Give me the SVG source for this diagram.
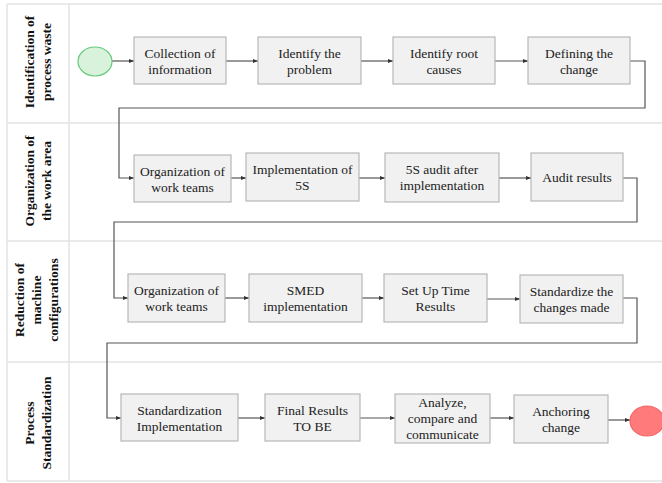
<svg xmlns="http://www.w3.org/2000/svg" width="662" height="483" viewBox="0 0 662 483">
<defs>
<marker id="ah" viewBox="0 0 10 10" refX="10" refY="5" markerWidth="5" markerHeight="5" orient="auto" markerUnits="userSpaceOnUse">
<path d="M0,1 L10,5 L0,9 z" fill="#333"/>
</marker>
<style>
.lane{stroke:#e3e3e3;stroke-width:1.5;fill:none}
.box{fill:#f1f1f1;stroke:#b8b8b8;stroke-width:1.2}
.t{font-family:'Liberation Serif','Times New Roman','DejaVu Serif',serif;font-size:13.5px;fill:#222;text-anchor:middle}
.lt{font-family:'Liberation Serif','Times New Roman','DejaVu Serif',serif;font-size:13.5px;font-weight:bold;fill:#111;text-anchor:middle}
.c{stroke:#555;stroke-width:1.2;fill:none;marker-end:url(#ah)}
</style>
</defs>
<rect width="662" height="483" fill="#fff"/>
<g id="lanes">
<path class="lane" d="M7,4 H662 M7,123 H662 M7,241 H662 M7,362 H662 M7,481 H662 M7,4 V481 M69,4 V481"/>
<text class="lt" transform="translate(38,62) rotate(-90)"><tspan x="0" y="-4">Identification of</tspan><tspan x="0" y="13">process waste</tspan></text>
<text class="lt" transform="translate(38,181) rotate(-90)"><tspan x="0" y="-4">Organization of</tspan><tspan x="0" y="13">the work area</tspan></text>
<text class="lt" transform="translate(37,300) rotate(-90)"><tspan x="0" y="-13">Reduction of</tspan><tspan x="0" y="4">machine</tspan><tspan x="0" y="21">configurations</tspan></text>
<text class="lt" transform="translate(38,423) rotate(-90)"><tspan x="0" y="-4">Process</tspan><tspan x="0" y="13">Standardization</tspan></text>
</g>
<g id="connectors">
<path class="c" d="M112,61 H134"/>
<path class="c" d="M226,61 H258"/>
<path class="c" d="M361,61 H393"/>
<path class="c" d="M495,61 H528"/>
<path class="c" d="M630,61 H645 V108 H119 V178 H134"/>
<path class="c" d="M231,178 H246"/>
<path class="c" d="M359,178 H385"/>
<path class="c" d="M499,178 H531"/>
<path class="c" d="M623,178 H637 V222 H114 V298 H128"/>
<path class="c" d="M225,298 H249"/>
<path class="c" d="M362,298 H384"/>
<path class="c" d="M487,299 H520"/>
<path class="c" d="M623,298 H637 V343 H107 V418 H121"/>
<path class="c" d="M238,418 H265"/>
<path class="c" d="M360,418 H395"/>
<path class="c" d="M490,418 H514"/>
<path class="c" d="M608,420 H630"/>
</g>
<g id="start"><ellipse cx="95" cy="61.5" rx="17" ry="14.5" fill="#d9f2dc" stroke="#66c978" stroke-width="1.2"/></g>
<g id="n1"><rect class="box" x="134" y="37" width="92" height="47"/><text class="t"><tspan x="180" y="58">Collection of</tspan><tspan x="180" y="74">information</tspan></text></g>
<g id="n2"><rect class="box" x="258" y="37" width="103" height="47"/><text class="t"><tspan x="309.5" y="58">Identify the</tspan><tspan x="309.5" y="74">problem</tspan></text></g>
<g id="n3"><rect class="box" x="393" y="37" width="102" height="47"/><text class="t"><tspan x="444" y="58">Identify root</tspan><tspan x="444" y="74">causes</tspan></text></g>
<g id="n4"><rect class="box" x="528" y="37" width="102" height="47"/><text class="t"><tspan x="579" y="58">Defining the</tspan><tspan x="579" y="74">change</tspan></text></g>
<g id="n5"><rect class="box" x="134" y="155" width="97" height="47"/><text class="t"><tspan x="182.5" y="176">Organization of</tspan><tspan x="182.5" y="192">work teams</tspan></text></g>
<g id="n6"><rect class="box" x="246" y="153" width="113" height="48"/><text class="t"><tspan x="302.5" y="174">Implementation of</tspan><tspan x="302.5" y="190">5S</tspan></text></g>
<g id="n7"><rect class="box" x="385" y="153" width="114" height="49"/><text class="t"><tspan x="442" y="174">5S audit after</tspan><tspan x="442" y="190">implementation</tspan></text></g>
<g id="n8"><rect class="box" x="531" y="153" width="92" height="48"/><text class="t"><tspan x="577" y="182">Audit results</tspan></text></g>
<g id="n9"><rect class="box" x="128" y="274" width="97" height="48"/><text class="t"><tspan x="176.5" y="295">Organization of</tspan><tspan x="176.5" y="311">work teams</tspan></text></g>
<g id="n10"><rect class="box" x="249" y="274" width="113" height="48"/><text class="t"><tspan x="305.5" y="295">SMED</tspan><tspan x="305.5" y="311">implementation</tspan></text></g>
<g id="n11"><rect class="box" x="384" y="274" width="103" height="48"/><text class="t"><tspan x="435.5" y="295">Set Up Time</tspan><tspan x="435.5" y="311">Results</tspan></text></g>
<g id="n12"><rect class="box" x="520" y="275" width="103" height="48"/><text class="t"><tspan x="571.5" y="296">Standardize the</tspan><tspan x="571.5" y="312">changes made</tspan></text></g>
<g id="n13"><rect class="box" x="121" y="394" width="117" height="47"/><text class="t"><tspan x="179.5" y="415">Standardization</tspan><tspan x="179.5" y="431">Implementation</tspan></text></g>
<g id="n14"><rect class="box" x="265" y="394" width="95" height="47"/><text class="t"><tspan x="312.5" y="415">Final Results</tspan><tspan x="312.5" y="431">TO BE</tspan></text></g>
<g id="n15"><rect class="box" x="395" y="394" width="95" height="49"/><text class="t"><tspan x="442.5" y="407">Analyze,</tspan><tspan x="442.5" y="423">compare and</tspan><tspan x="442.5" y="439">communicate</tspan></text></g>
<g id="n16"><rect class="box" x="514" y="395" width="94" height="48"/><text class="t"><tspan x="561" y="416">Anchoring</tspan><tspan x="561" y="432">change</tspan></text></g>
<g id="end"><ellipse cx="647" cy="421" rx="17" ry="15" fill="#ff7b7b" stroke="#f26464" stroke-width="1.2"/></g>
</svg>
